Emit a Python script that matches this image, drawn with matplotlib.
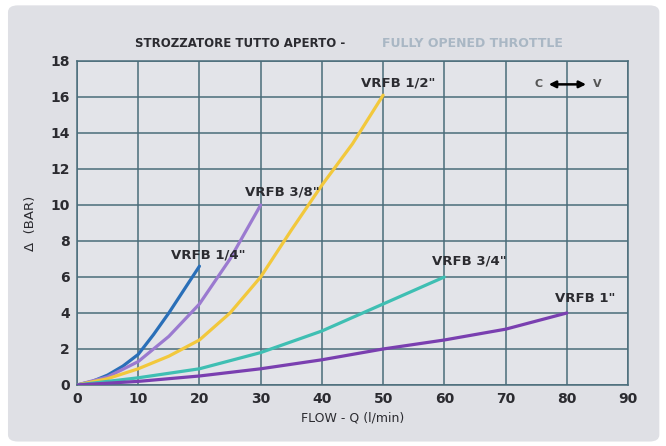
import matplotlib
matplotlib.use("Agg")
import matplotlib.pyplot as plt
from matplotlib.patches import FancyBboxPatch

# Curve data (flow l/min, pressure drop bar)
flow_14 = [0, 2.5, 5, 7.5, 10, 12.5, 15, 17.5, 20]
bar_14 = [0, 0.2, 0.55, 1.05, 1.7, 2.8, 4.0, 5.3, 6.6]

flow_38 = [0, 5, 10, 15, 20, 25, 30]
bar_38 = [0, 0.45, 1.3, 2.7, 4.5, 7.0, 10.0]

flow_12 = [0, 5, 10, 15, 20, 25, 30, 35, 40, 45, 50]
bar_12 = [0, 0.35, 0.9, 1.6, 2.5, 4.0, 6.0, 8.6, 11.1, 13.4, 16.1]

flow_34 = [0, 10, 20, 30, 40, 50, 60]
bar_34 = [0, 0.4, 0.9, 1.8, 3.0, 4.5, 6.0]

flow_1 = [0, 10, 20, 30, 40, 50, 60, 70, 80]
bar_1 = [0, 0.2, 0.5, 0.9, 1.4, 2.0, 2.5, 3.1, 4.0]

series = [
    (flow_14, bar_14, '#2a6fb8', 'VRFB 1/4"', 21.5, 7.2),
    (flow_38, bar_38, '#9b7ad0', 'VRFB 3/8"', 33.5, 10.7),
    (flow_12, bar_12, '#f2c83c', 'VRFB 1/2"', 52.5, 16.8),
    (flow_34, bar_34, '#3fbfb3', 'VRFB 3/4"', 64.0, 6.9),
    (flow_1, bar_1, '#7a3fb0', 'VRFB 1"', 83.0, 4.8),
]

x_ticks = [0, 10, 20, 30, 40, 50, 60, 70, 80, 90]
y_ticks = [0, 2, 4, 6, 8, 10, 12, 14, 16, 18]

panel = '#dfe0e5'
grid_col = '#4a6c7a'
text_col = '#2b2b30'

fig = plt.figure(figsize=(6.66, 4.46), dpi=100)
fig.patch.set_facecolor('white')
bg = FancyBboxPatch((0.012, 0.01), 0.978, 0.978,
                    boxstyle='round,pad=0,rounding_size=0.015',
                    transform=fig.transFigure, facecolor=panel,
                    edgecolor='none', zorder=-10)
fig.add_artist(bg)

ax = fig.add_axes([0.1156, 0.1368, 0.8274, 0.7265])
ax.set_facecolor('#e3e4e9')

for fx, fy, col, name, lx, ly in series:
    ax.plot(fx, fy, color=col, linewidth=2.3, solid_capstyle='round',
            solid_joinstyle='round', zorder=3)
    ax.text(lx, ly, name, ha='center', va='center', fontsize=9.5,
            fontweight='bold', color=text_col, zorder=4)

ax.set_xlim(0, 90)
ax.set_ylim(0, 18)
ax.set_xticks(x_ticks)
ax.set_yticks(y_ticks)
ax.grid(True, color=grid_col, linewidth=1.1)
ax.set_axisbelow(True)
for s in ax.spines.values():
    s.set_color(grid_col)
    s.set_linewidth(1.1)
ax.tick_params(length=0, labelsize=10, labelcolor=text_col, pad=5)
for lab in ax.get_xticklabels() + ax.get_yticklabels():
    lab.set_fontweight('bold')

ax.set_xlabel('FLOW - Q (l/min)', fontsize=9, color=text_col, labelpad=4)
ax.set_ylabel('\u0394  (BAR)', fontsize=9.5, color=text_col, labelpad=10)

# Two-colour title
fig.text(0.518, 0.902, 'STROZZATORE TUTTO APERTO -', ha='right', va='center',
         fontsize=8.5, fontweight='bold', color=text_col)
fig.text(0.574, 0.902, 'FULLY OPENED THROTTLE', ha='left', va='center',
         fontsize=9, fontweight='bold', color='#a9b7c4')

# C <-> V marker
ax.text(75.4, 16.7, 'C', ha='center', va='center', fontsize=8,
        fontweight='bold', color='#555')
ax.annotate('', xy=(83.6, 16.7), xytext=(76.6, 16.7),
            arrowprops=dict(arrowstyle='<|-|>', color='black', lw=1.8,
                            mutation_scale=10))
ax.text(85.0, 16.7, 'V', ha='center', va='center', fontsize=8,
        fontweight='bold', color='#555')

fig.savefig('out.png', dpi=100, facecolor=fig.get_facecolor())
